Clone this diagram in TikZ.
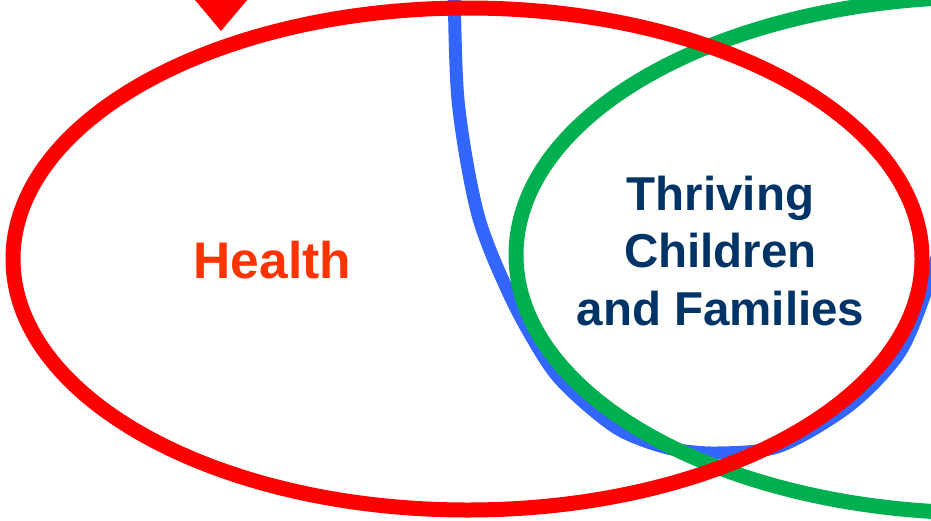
\documentclass[tikz,border=0pt]{standalone}
\usepackage{fontspec}
\setmainfont{Liberation Sans}
\usepackage{tikz}
\usetikzlibrary{positioning}
\definecolor{ringred}{RGB}{255,0,0}
\definecolor{ringblue}{RGB}{51,102,255}
\definecolor{ringgreen}{RGB}{0,176,80}
\definecolor{healthorange}{RGB}{255,51,0}
\definecolor{navyblue}{RGB}{0,51,102}
\tikzstyle{ring} = [line width = 15pt]
\tikzstyle{word} = [inner sep = 0, align = center]

\begin{document}
\begin{tikzpicture}[x = 1pt, y = -1pt]
    \useasboundingbox (0, 0) rectangle (931, 520);
    \clip (0, 0) rectangle (931, 520);
    \draw [ring, ringblue, line width = 13pt] plot [smooth] coordinates {
      (454, -30) (458, 100) (478, 215) (512, 300) (549, 365) (578, 397)
      (620, 430) (668, 448) (717, 453) (780, 446) (850, 405) (900, 352)
      (928, 285) (945, 230)};
    \draw [ring, ringgreen] (984, 255) ellipse [x radius = 468, y radius = 258];
    \draw [ring, ringred] (467.5, 259) ellipse [x radius = 454.5, y radius = 251];
    \fill [ringred] (190.8, -5) -- (251.2, -5) -- (221, 31) -- cycle;
    \node [word, text = healthorange,
      font = \bfseries\fontsize{51.5}{60}\selectfont] (health) at (272.5, 260)
      {Health};
    \node [word, text = navyblue,
      font = \bfseries\fontsize{47.5}{57.5}\selectfont] (thriving) at (720.5, 250.7)
      {Thriving\\Children\\and Families};
\end{tikzpicture}
\end{document}
